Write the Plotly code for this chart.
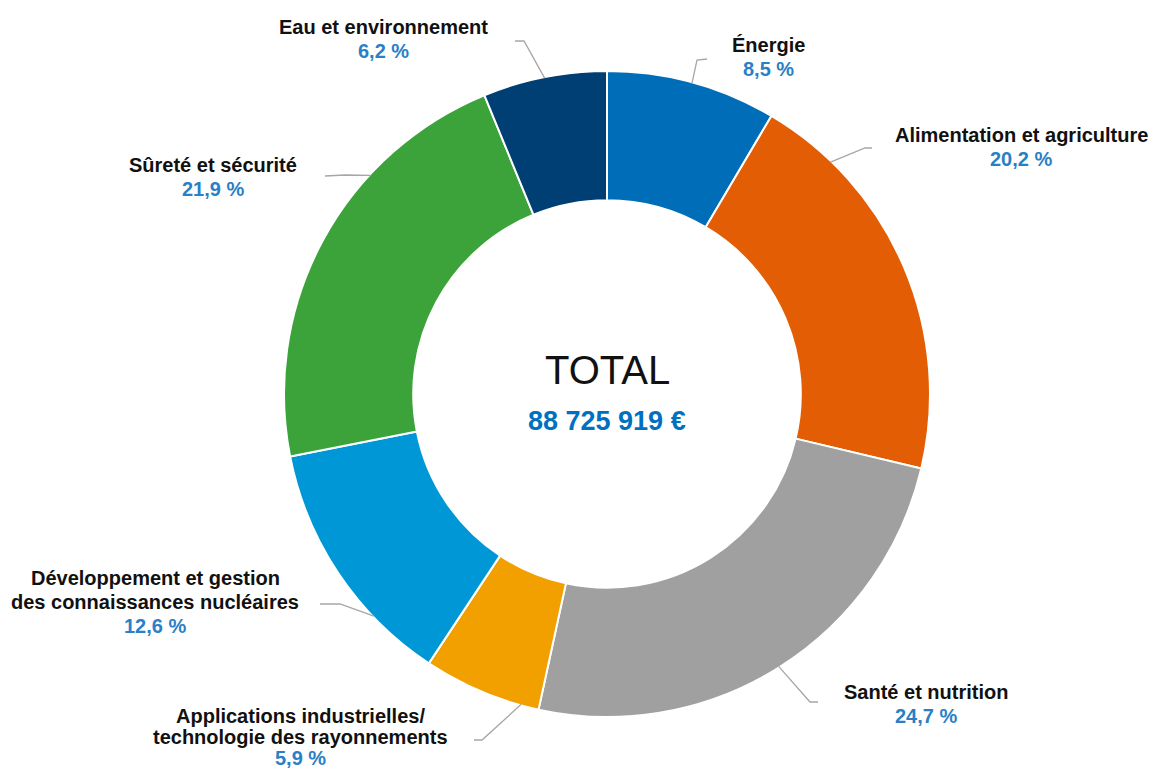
import math
import plotly.graph_objects as go

# ---------------- data ----------------
categories = [
    "Énergie",
    "Alimentation et agriculture",
    "Santé et nutrition",
    "Applications industrielles/ technologie des rayonnements",
    "Développement et gestion des connaissances nucléaires",
    "Sûreté et sécurité",
    "Eau et environnement",
]
label_lines = [
    ["Énergie"],
    ["Alimentation et agriculture"],
    ["Santé et nutrition"],
    ["Applications industrielles/", "technologie des rayonnements"],
    ["Développement et gestion", "des connaissances nucléaires"],
    ["Sûreté et sécurité"],
    ["Eau et environnement"],
]
shares = [8.5, 20.2, 24.7, 5.9, 12.6, 21.9, 6.2]
total_text = "88 725 919 €"
colors = ["#006DB8", "#E35D05", "#A0A0A0", "#F29F00", "#0097D7", "#3BA33A", "#003F73"]

# ---------------- layout (pixels) ----------------
W, H = 1153, 773
CX, CY, R = 607, 394, 323
HOLE = 0.60

# label placement: text centre of first line, elbow and end of leader line,
# an angular shift of the leader anchor from the slice mid-angle, line spacing
text_pos = [(768, 45), (1021, 135), (926, 692), (300, 716), (155, 578), (213, 165), (383, 27)]
elbow_pos = [(697, 60), (865, 148), (810, 702), (482, 740), (340, 604), (345, 175), (524, 41)]
end_pos = [(707, 59), (872, 148), (818, 702), (474, 740), (320, 604), (325, 176), (515, 41)]
anchor_shift = [0, -23, 0, -7.4, -9.8, 14.5, 0]
line_h = [24, 24, 24, 21, 24, 24, 24]
FS = 20


def px(x):
    return x / W


def py(y):
    return 1 - y / H


fig = go.Figure(
    go.Pie(
        labels=categories,
        values=shares,
        hole=HOLE,
        sort=False,
        direction="clockwise",
        rotation=0,
        marker=dict(colors=colors, line=dict(color="white", width=2)),
        textinfo="none",
        hoverinfo="label+percent",
        showlegend=False,
        domain=dict(x=[px(CX - R), px(CX + R)], y=[py(CY + R), py(CY - R)]),
    )
)

annotations = []
shapes = []
total = sum(shares)
cum = 0.0
for i, v in enumerate(shares):
    mid = (cum + v / 2) / total * 360.0
    cum += v
    ang = math.radians(mid + anchor_shift[i])
    ax_ = CX + (R - 1) * math.sin(ang)
    ay_ = CY - (R - 1) * math.cos(ang)
    ex, ey = elbow_pos[i]
    fx, fy = end_pos[i]
    shapes.append(dict(
        type="path", xref="paper", yref="paper",
        path=f"M {px(ax_)},{py(ay_)} L {px(ex)},{py(ey)} L {px(fx)},{py(fy)}",
        line=dict(color="#A6A6A6", width=1.3),
    ))
    tx, ty = text_pos[i]
    for j, line in enumerate(label_lines[i]):
        annotations.append(dict(
            x=px(tx), y=py(ty + j * line_h[i]), xref="paper", yref="paper",
            text=f"<b>{line}</b>", showarrow=False, xanchor="center", yanchor="middle",
            font=dict(family="Liberation Sans, Arial, sans-serif", size=FS, color="#111111"),
        ))
    pct = f"{v:.1f}".replace(".", ",") + " %"
    annotations.append(dict(
        x=px(tx), y=py(ty + len(label_lines[i]) * line_h[i]), xref="paper", yref="paper",
        text=f"<b>{pct}</b>", showarrow=False, xanchor="center", yanchor="middle",
        font=dict(family="Liberation Sans, Arial, sans-serif", size=FS, color="#2A7FC6"),
    ))

annotations.append(dict(
    x=px(CX), y=py(370), xref="paper", yref="paper", text="TOTAL", showarrow=False,
    xanchor="center", yanchor="middle",
    font=dict(family="Liberation Sans, Arial, sans-serif", size=40, color="#111111"),
))
annotations.append(dict(
    x=px(CX), y=py(421), xref="paper", yref="paper", text=f"<b>{total_text}</b>", showarrow=False,
    xanchor="center", yanchor="middle",
    font=dict(family="Liberation Sans, Arial, sans-serif", size=27, color="#0070C0"),
))

fig.update_layout(
    width=W, height=H,
    margin=dict(l=0, r=0, t=0, b=0),
    paper_bgcolor="white", plot_bgcolor="white",
    annotations=annotations, shapes=shapes,
)

fig.write_html("out.html")
